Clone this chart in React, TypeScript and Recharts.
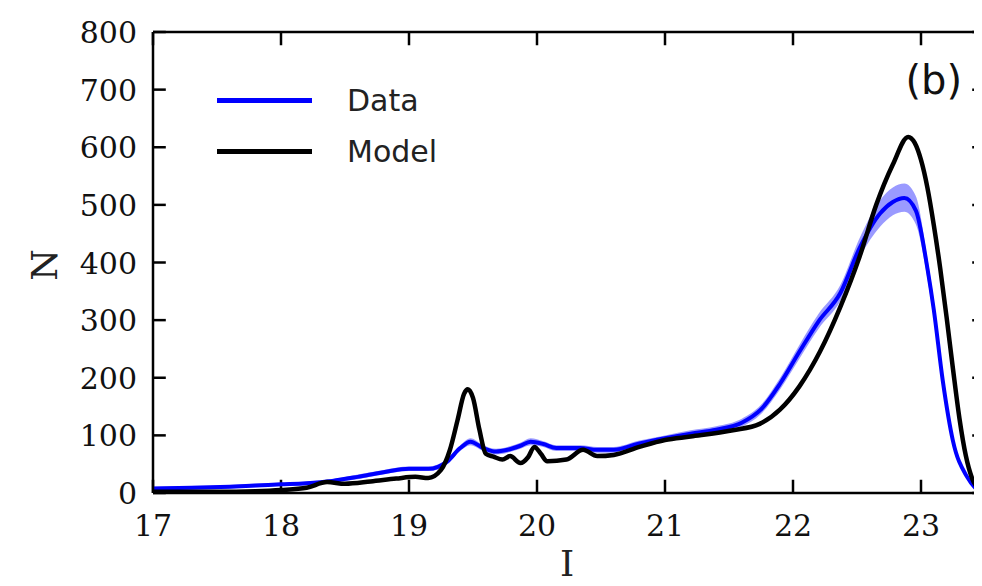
import { ComposedChart, Line, Area, XAxis, YAxis, Legend, ReferenceLine } from 'recharts';

// observed data: magnitude I, counts N, and the shaded error band
const dataI = [17.0, 17.3, 17.6, 17.8, 18.0, 18.2, 18.4, 18.6, 18.8, 19.0, 19.15, 19.3, 19.4, 19.48, 19.58, 19.68, 19.77, 19.87, 19.95, 20.05, 20.15, 20.34, 20.47, 20.6, 20.8, 21.0, 21.2, 21.4, 21.6, 21.75, 21.9, 22.05, 22.2, 22.37, 22.52, 22.68, 22.78, 22.87, 22.96, 23.05, 23.1, 23.17, 23.25, 23.36, 23.46, 23.5];
const dataN = [8, 9, 11, 13, 15, 17, 21, 28, 36, 42, 42, 55, 78, 89, 78, 72, 75, 82, 89, 85, 78, 78, 75, 75, 86, 95, 103, 110, 122, 145, 190, 245, 298, 347, 425, 485, 505, 512, 490, 390, 318, 195, 90, 28, 3, 0];
const dataLo = [5, 6, 8, 10, 12, 14, 18, 24, 32, 38, 38, 50, 73, 83, 73, 67, 70, 77, 83, 80, 73, 73, 70, 70, 81, 90, 97, 104, 115, 137, 180, 233, 285, 333, 408, 462, 482, 488, 466, 372, 302, 184, 83, 24, 1, 0];
const dataHi = [11, 12, 14, 16, 18, 20, 24, 32, 40, 46, 46, 60, 83, 95, 83, 77, 80, 87, 95, 90, 83, 83, 80, 80, 91, 100, 109, 116, 129, 153, 200, 257, 311, 361, 442, 508, 530, 537, 515, 408, 334, 206, 97, 32, 5, 0];

// model curve
const modelI = [17.0, 17.5, 17.8, 18.0, 18.2, 18.36, 18.5, 18.7, 18.9, 19.05, 19.15, 19.25, 19.32, 19.38, 19.43, 19.46, 19.5, 19.55, 19.6, 19.66, 19.73, 19.79, 19.87, 19.93, 19.98, 20.03, 20.08, 20.23, 20.36, 20.47, 20.6, 20.8, 21.0, 21.2, 21.53, 21.74, 21.9, 22.05, 22.21, 22.37, 22.52, 22.65, 22.78, 22.9, 22.95, 23.0, 23.05, 23.1, 23.15, 23.2, 23.25, 23.3, 23.35, 23.4, 23.45, 23.5];
const modelN = [2, 2, 3, 5, 9, 19, 16, 20, 25, 28, 26, 40, 75, 127, 172, 180, 165, 110, 68, 63, 58, 64, 52, 62, 80, 68, 55, 58, 75, 64, 66, 80, 92, 98, 109, 120, 145, 185, 245, 323, 410, 500, 570, 618, 608, 578, 530, 465, 390, 305, 215, 130, 65, 25, 7, 1];

const xTicks = [17, 18, 19, 20, 21, 22, 23];
const yTicks = [0, 100, 200, 300, 400, 500, 600, 700, 800];

const observed = dataI.map((x, i) => ({ x, n: dataN[i], band: [dataLo[i], dataHi[i]] }));
const model = modelI.map((x, i) => ({ x, n: modelN[i] }));

const X_MIN = 17, X_MAX = 23.5, Y_MIN = 0, Y_MAX = 800;
// inward tick length (~13px) expressed in axis units
const TICK_DX = 0.1, TICK_DY = 23;

const serif = 'DejaVu Serif';
const sans = 'DejaVu Sans';

function LeftLabel({ x, y, payload }: any) {
  return <text x={Number(x) - 16} y={Number(y) + 11} textAnchor="end" fontFamily={serif} fontSize={30} fill="#111">{payload.value}</text>;
}
function BottomLabel({ x, y, payload }: any) {
  return <text x={Number(x)} y={Number(y) + 43} textAnchor="middle" fontFamily={serif} fontSize={30} fill="#111">{payload.value}</text>;
}

function LegendBox({ payload }: any) {
  const items = (payload || []).filter((p: any) => p.type !== 'none');
  return (
    <div>
      {items.map((p: any) => (
        <div key={p.value} style={{ display: 'flex', alignItems: 'center', height: 51 }}>
          <div style={{ width: 95, height: 5, background: p.color }} />
          <span style={{ marginLeft: 35, fontFamily: sans, fontSize: 30, color: '#222', lineHeight: '30px' }}>{p.value}</span>
        </div>
      ))}
    </div>
  );
}

const tickLine = { stroke: '#000', strokeWidth: 2.5, ifOverflow: 'visible' as const };

export default function App() {
  return (
    <div style={{ position: 'relative', width: 974, height: 578, overflow: 'hidden', background: '#fff' }}>
      <ComposedChart width={990} height={578} margin={{ top: 24, right: 13, bottom: 0, left: 0 }}>
        <XAxis
          dataKey="x"
          type="number"
          domain={[X_MIN, X_MAX]}
          allowDataOverflow
          ticks={xTicks}
          height={93}
          tickSize={0}
          tickMargin={0}
          tickLine={false}
          tick={<BottomLabel />}
          axisLine={{ stroke: '#000', strokeWidth: 2.5 }}
        />
        <YAxis
          type="number"
          domain={[Y_MIN, Y_MAX]}
          allowDataOverflow
          ticks={yTicks}
          width={145}
          tickSize={0}
          tickMargin={0}
          tickLine={false}
          tick={<LeftLabel />}
          axisLine={{ stroke: '#000', strokeWidth: 2.5 }}
        />
        <ReferenceLine y={Y_MAX} stroke="#000" strokeWidth={2.5} />
        {xTicks.map(t => (
          <ReferenceLine key={`b${t}`} {...tickLine} segment={[{ x: t, y: Y_MIN }, { x: t, y: Y_MIN + TICK_DY }]} />
        ))}
        {xTicks.map(t => (
          <ReferenceLine key={`t${t}`} {...tickLine} segment={[{ x: t, y: Y_MAX }, { x: t, y: Y_MAX - TICK_DY }]} />
        ))}
        {yTicks.map(t => (
          <ReferenceLine key={`l${t}`} {...tickLine} segment={[{ x: X_MIN, y: t }, { x: X_MIN + TICK_DX, y: t }]} />
        ))}
        {yTicks.map(t => (
          <ReferenceLine key={`r${t}`} {...tickLine} segment={[{ x: X_MAX, y: t }, { x: X_MAX - TICK_DX, y: t }]} />
        ))}
        <Area
          data={observed}
          dataKey="band"
          type="monotone"
          stroke="none"
          fill="#6f6fff"
          fillOpacity={0.7}
          legendType="none"
          isAnimationActive={false}
        />
        <Line
          data={observed}
          dataKey="n"
          name="Data"
          type="monotone"
          stroke="#0000ff"
          strokeWidth={4}
          dot={false}
          isAnimationActive={false}
        />
        <Line
          data={model}
          dataKey="n"
          name="Model"
          type="monotone"
          stroke="#000"
          strokeWidth={4.5}
          dot={false}
          isAnimationActive={false}
        />
        <Legend
          layout="vertical"
          align="center"
          verticalAlign="middle"
          content={<LegendBox />}
          wrapperStyle={{ left: 209, top: 67, width: 'auto', height: 'auto' }}
        />
      </ComposedChart>
      <div style={{ position: 'absolute', left: 19, top: 237, width: 36, height: 40, fontFamily: serif, fontSize: 36, color: '#222', transform: 'rotate(-90deg)', textAlign: 'center', lineHeight: '40px' }}>N</div>
      <div style={{ position: 'absolute', left: 539, top: 536, width: 40, height: 40, fontFamily: serif, fontSize: 36, color: '#222', textAlign: 'center', lineHeight: '40px' }}>I</div>
      <div style={{ position: 'absolute', right: 20, top: 48, fontFamily: sans, fontSize: 40, color: '#111', lineHeight: '48px' }}>(b)</div>
    </div>
  );
}
